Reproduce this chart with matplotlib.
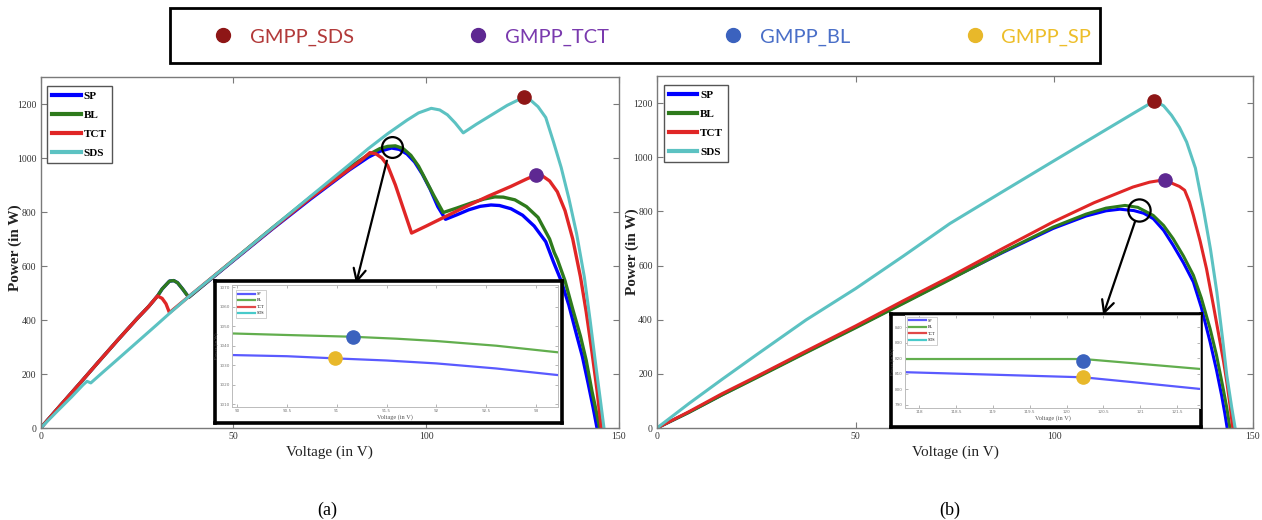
import matplotlib
matplotlib.use("Agg")
import matplotlib.pyplot as plt
from matplotlib.lines import Line2D
from matplotlib.patches import Rectangle

# ---------------- data: (a) partial shading ----------------
a_sds_v = [0, 4, 8, 11, 12, 13, 16, 20, 25, 30, 34, 38.6, 50, 60, 70, 80, 85, 90, 95, 98, 101.3,
           103.5, 105.5, 107.5, 109.6, 113, 117, 121, 125.3, 127, 129, 131, 133, 135, 137, 139,
           141, 142.5, 144, 145.2, 146.1]
a_sds_p = [0, 58, 115, 160, 173, 167, 205, 255, 318, 381, 432, 489, 622, 740, 858, 975, 1035, 1090,
           1140, 1167, 1184, 1178, 1160, 1130, 1093, 1125, 1160, 1195, 1225, 1215, 1190, 1150, 1060,
           965, 850, 720, 560, 400, 230, 100, 0]

a_tct_v = [0, 5, 10, 15, 20, 25, 28, 30.3, 31.5, 32.5, 33.4, 38.6, 50, 60, 70, 75, 80, 83, 85.4,
           87, 88.5, 90, 92, 94, 96.2, 100, 104.4, 110, 116, 122, 126, 128.6, 130, 132, 134, 136,
           138, 140, 141.5, 143, 144.3, 145.4]
a_tct_p = [0, 82, 163, 245, 326, 405, 450, 489, 480, 460, 427, 489, 622, 738, 852, 905, 958, 990,
           1020, 1015, 1000, 972, 900, 815, 722, 748, 779, 818, 858, 895, 922, 938, 935, 915, 875,
           805, 700, 560, 430, 280, 140, 0]

a_bl_v = [0, 5, 10, 15, 20, 25, 28, 30.3, 31.5, 33.4, 34.5, 35.5, 36.8, 38.4, 50, 60, 70, 80, 85,
          88, 90, 92, 94, 96, 98, 100, 102, 104.4, 108, 112, 115, 117.8, 120, 123, 126, 129, 132,
          133.2, 134, 136, 138, 140, 141.5, 143, 144.2, 145]
a_bl_p = [0, 82, 163, 245, 326, 405, 450, 489, 515, 544, 546, 538, 515, 484, 622, 740, 855, 965,
          1012, 1035, 1043, 1045, 1035, 1010, 970, 915, 860, 798, 815, 835, 848, 856, 855, 845,
          820, 780, 700, 650, 625, 545, 440, 340, 250, 135, 55, 0]

a_sp_v = [0, 5, 10, 15, 20, 25, 28, 30.3, 31.5, 33.4, 34.5, 35.5, 36.8, 38.4, 50, 60, 70, 80, 85,
          88, 91, 93, 95, 97, 99, 101, 103, 105, 108, 111, 114, 116.8, 119, 122, 125, 128, 131,
          133, 135, 137, 139, 140.5, 142, 143.3, 144.3]
a_sp_p = [0, 82, 163, 245, 326, 405, 450, 489, 515, 544, 546, 538, 515, 484, 620, 736, 848, 955,
          1003, 1025, 1037, 1032, 1015, 985, 940, 885, 820, 773, 790, 808, 821, 826, 824, 812, 788,
          748, 690, 615, 545, 455, 345, 265, 165, 75, 0]

a_gmpp_sds = (125.3, 1225)
a_gmpp_tct = (128.6, 938)
a_zoom_center = (91.0, 1039)
a_arrow_from = (89.8, 990)
a_arrow_to = (81.8, 535)

# inset (a)
ia_bl_v = [89.95, 90.5, 91.16, 91.6, 92.0, 92.6, 93.22]
ia_bl_p = [1046.3, 1045.5, 1044.6, 1043.6, 1042.4, 1040.0, 1036.6]
ia_sp_v = [89.95, 90.5, 90.98, 91.5, 92.0, 92.6, 93.22]
ia_sp_p = [1035.2, 1034.6, 1033.5, 1032.4, 1030.9, 1028.3, 1024.9]
ia_gmpp_bl = (91.16, 1044.6)
ia_gmpp_sp = (90.98, 1033.5)
ia_xticks = [90, 90.5, 91, 91.5, 92, 92.5, 93]
ia_yticks = [1010, 1020, 1030, 1040, 1050, 1060, 1070]

# ---------------- data: (b) uniform ----------------
b_sds_v = [0, 8, 16.4, 25, 37.5, 50, 62, 73.7, 87, 99.7, 112, 120, 125.2, 127.5, 129.5, 131.5,
           133.3, 135.5, 137.5, 139.3, 140.9, 142.3, 143.4, 144.6, 145.5]
b_sds_p = [0, 90, 180, 270, 399, 515, 635, 755, 873, 985, 1093, 1163, 1208, 1190, 1155, 1110,
           1056, 960, 810, 660, 502, 335, 195, 80, 0]

b_tct_v = [0, 8, 16.4, 25, 37.5, 50, 62, 73.7, 87, 99.7, 110, 119.8, 124, 127.8, 129.9, 131.5,
           132.8, 134, 135, 136.7, 138.3, 140, 141.7, 142.6, 143.4, 144.2, 144.9]
b_tct_p = [0, 60, 127, 190, 284, 377, 470, 558, 663, 761, 832, 890, 908, 917, 902, 892, 878, 835,
           785, 690, 588, 455, 318, 245, 170, 85, 0]

b_bl_v = [0, 8, 16.4, 25, 37.5, 50, 62, 73.7, 87, 99.7, 108, 113, 117.8, 121, 124.9, 127.5,
          129.9, 132.5, 135, 137, 139.2, 140.8, 142.5, 143.4, 144.2]
b_bl_p = [0, 57, 122, 185, 278, 370, 460, 548, 650, 742, 790, 812, 822, 815, 785, 748, 699, 635,
          564, 480, 367, 270, 145, 75, 0]

b_sp_v = [0, 8, 16.4, 25, 37.5, 50, 62, 73.7, 87, 99.7, 108, 113, 116.5, 120, 122.5, 124.9,
          127.5, 129.9, 132.5, 135, 137, 139.2, 140.8, 142.1, 142.9, 143.5]
b_sp_p = [0, 58, 123, 187, 280, 372, 462, 550, 648, 737, 783, 802, 808, 803, 793, 773, 730, 675,
          610, 539, 445, 318, 215, 121, 55, 0]

b_gmpp_sds = (125.2, 1208)
b_gmpp_tct = (127.8, 917)
b_zoom_center = (121.4, 805)
b_arrow_from = (120.3, 762)
b_arrow_to = (112.3, 417)

# inset (b)
ib_bl_v = [117.81, 119.0, 120.23, 121.0, 121.81]
ib_bl_p = [819.5, 819.5, 819.5, 816.4, 813.1]
ib_sp_v = [117.81, 119.0, 120.23, 121.0, 121.81]
ib_sp_p = [811.0, 809.4, 807.7, 804.1, 800.2]
ib_gmpp_bl = (120.23, 818.5)
ib_gmpp_sp = (120.23, 807.7)
ib_xticks = [118, 118.5, 119, 119.5, 120, 120.5, 121, 121.5]
ib_yticks = [790, 800, 810, 820, 830, 840]

series_names = ["SP", "BL", "TCT", "SDS"]
gmpp_labels = ["GMPP_SDS", "GMPP_TCT", "GMPP_BL", "GMPP_SP"]
x_ticks = [0, 50, 100, 150]
y_ticks = [0, 200, 400, 600, 800, 1000, 1200]

# ---------------- styles ----------------
C_SP, C_BL, C_TCT, C_SDS = "#0000FF", "#2E7A1C", "#E02626", "#5CC2C2"
CI_SP, CI_BL, CI_TCT, CI_SDS = "#5A5AFF", "#62AE4E", "#E04848", "#48CACA"
M_SDS, M_TCT, M_BL, M_SP = "#8E1616", "#5E2892", "#3B62BE", "#E8B82A"
T_SDS, T_TCT, T_BL, T_SP = "#B23A3A", "#7A3AAE", "#4A6FC8", "#EDBE2A"
SERIF = "Liberation Serif"
W, H = 1262, 520

fig = plt.figure(figsize=(W / 100, H / 100), dpi=100)


def fr(x0, y0, x1, y1):
    """pixel box (left, top, right, bottom) -> figure fraction rect"""
    return [x0 / W, 1 - y1 / H, (x1 - x0) / W, (y1 - y0) / H]


def style_main(ax):
    ax.set_xlim(0, 150)
    ax.set_ylim(0, 1300)
    ax.set_xticks(x_ticks)
    ax.set_yticks(y_ticks)
    for s in ax.spines.values():
        s.set_color("#7A7A7A")
        s.set_linewidth(1.0)
    ax.tick_params(direction="in", top=True, right=True, length=4, width=0.8,
                   color="#7A7A7A", labelsize=7, labelcolor="#333333", pad=3)
    for t in ax.get_xticklabels() + ax.get_yticklabels():
        t.set_family(SERIF)
    ax.set_xlabel("Voltage (in V)", family=SERIF, fontsize=11, color="#222222")
    ax.set_ylabel("Power (in W)", family=SERIF, fontsize=11, fontweight="bold", color="#222222")
    ax.xaxis.label.set_va("center")
    ax.yaxis.label.set_va("center")


def main_legend(ax):
    leg = ax.legend(loc="upper left", bbox_to_anchor=(0.011, 0.975), prop={"family": SERIF, "weight": "bold", "size": 8},
                    handlelength=2.6, handletextpad=0.25, labelspacing=0.85, borderpad=0.45,
                    fancybox=False, framealpha=1, edgecolor="#555555", borderaxespad=0)
    leg.get_frame().set_linewidth(1.0)
    for line in leg.get_lines():
        line.set_linewidth(3.0)


def inset(box, inner, xt, yt, bl, sp, gbl, gsp, xlim, ylim, leg_anchor):
    frame = fig.add_axes(fr(*box))
    frame.set_xticks([])
    frame.set_yticks([])
    frame.set_facecolor("white")
    for s in frame.spines.values():
        s.set_linewidth(2.6)
        s.set_color("black")
    frame.set_zorder(5)
    ia = fig.add_axes(fr(*inner))
    ia.set_zorder(6)
    ia.plot(sp[0], sp[1], color=CI_SP, lw=1.6, label=series_names[0])
    ia.plot(bl[0], bl[1], color=CI_BL, lw=1.6, label=series_names[1])
    ia.plot([], [], color=CI_TCT, lw=1.6, label=series_names[2])
    ia.plot([], [], color=CI_SDS, lw=1.6, label=series_names[3])
    ia.plot(*gbl, "o", color=M_BL, ms=9.5, zorder=5)
    ia.plot(*gsp, "o", color=M_SP, ms=9.5, zorder=5)
    ia.set_xlim(*xlim)
    ia.set_ylim(*ylim)
    ia.set_xticks(xt)
    ia.set_yticks(yt)
    ia.set_xticklabels([f"{v:g}" for v in xt])
    ia.set_yticklabels([f"{v:g}" for v in yt])
    for s in ia.spines.values():
        s.set_color("#BBBBBB")
        s.set_linewidth(0.7)
    ia.tick_params(direction="in", top=True, right=True, length=2, width=0.5, color="#999999",
                   labelsize=3, labelcolor="#777777", pad=1.5)
    ia.set_xlabel("Voltage (in V)", family=SERIF, fontsize=4.5, color="#555555", labelpad=0.5)
    ia.set_ylabel("Power (in W)", family=SERIF, fontsize=3.5, color="#555555", labelpad=1)
    leg = ia.legend(loc="upper left", bbox_to_anchor=leg_anchor, prop={"family": SERIF, "size": 3},
                    handlelength=4, handletextpad=0.5, labelspacing=0.6, borderpad=0.5,
                    fancybox=False, framealpha=1, edgecolor="#BBBBBB", borderaxespad=0)
    leg.get_frame().set_linewidth(0.5)
    for line in leg.get_lines():
        line.set_linewidth(1.6)
    return ia


# ---------------- (a) ----------------
axa = fig.add_axes(fr(40.7, 77, 619, 428))
axa.plot(a_sp_v, a_sp_p, color=C_SP, lw=2.4, label=series_names[0])
axa.plot(a_bl_v, a_bl_p, color=C_BL, lw=2.4, label=series_names[1])
axa.plot(a_tct_v, a_tct_p, color=C_TCT, lw=2.4, label=series_names[2])
axa.plot(a_sds_v, a_sds_p, color=C_SDS, lw=2.2, label=series_names[3])
axa.plot(*a_gmpp_sds, "o", color=M_SDS, ms=9.5, zorder=5)
axa.plot(*a_gmpp_tct, "o", color=M_TCT, ms=9.5, zorder=5)
axa.plot(*a_zoom_center, "o", mfc="none", mec="black", ms=15, mew=1.6, zorder=6)
axa.annotate("", xy=a_arrow_to, xytext=a_arrow_from,
             arrowprops=dict(arrowstyle="->", lw=1.6, color="black", mutation_scale=22,
                             shrinkA=0, shrinkB=0), zorder=6)
style_main(axa)
main_legend(axa)
axa.xaxis.set_label_coords(0.5, (428 - 452) / 351)
axa.yaxis.set_label_coords((15 - 40.7) / 578.3, 0.515)

inset((215, 281, 562, 423), (232, 285, 558, 407), ia_xticks, ia_yticks,
      (ia_bl_v, ia_bl_p), (ia_sp_v, ia_sp_p), ia_gmpp_bl, ia_gmpp_sp,
      (89.95, 93.22), (1008.5, 1071.2), (0.012, 0.96))

# ---------------- (b) ----------------
axb = fig.add_axes(fr(657, 76, 1253, 428))
axb.plot(b_sp_v, b_sp_p, color=C_SP, lw=2.2, label=series_names[0])
axb.plot(b_bl_v, b_bl_p, color=C_BL, lw=2.2, label=series_names[1])
axb.plot(b_tct_v, b_tct_p, color=C_TCT, lw=2.2, label=series_names[2])
axb.plot(b_sds_v, b_sds_p, color=C_SDS, lw=2.2, label=series_names[3])
axb.plot(*b_gmpp_sds, "o", color=M_SDS, ms=9.5, zorder=5)
axb.plot(*b_gmpp_tct, "o", color=M_TCT, ms=9.5, zorder=5)
axb.plot(*b_zoom_center, "o", mfc="none", mec="black", ms=16, mew=1.6, zorder=6)
axb.annotate("", xy=b_arrow_to, xytext=b_arrow_from,
             arrowprops=dict(arrowstyle="->", lw=1.6, color="black", mutation_scale=22,
                             shrinkA=0, shrinkB=0), zorder=6)
style_main(axb)
main_legend(axb)
axb.xaxis.set_label_coords(0.5, (428 - 452) / 352)
axb.yaxis.set_label_coords((632 - 657) / 596, 0.5)

inset((891, 314, 1201, 427), (905, 315, 1200, 408), ib_xticks, ib_yticks,
      (ib_bl_v, ib_bl_p), (ib_sp_v, ib_sp_p), ib_gmpp_bl, ib_gmpp_sp,
      (117.81, 121.81), (787.9, 847.9), (0.006, 0.98))

# ---------------- top GMPP legend ----------------
fig.add_artist(Rectangle((170 / W, 1 - 63 / H), 930 / W, 55 / H, transform=fig.transFigure,
                         fill=False, lw=2.0, ec="black"))
handles = [Line2D([], [], ls="none", marker="o", ms=10, color=c) for c in (M_SDS, M_TCT, M_BL, M_SP)]
top = fig.legend(handles, gmpp_labels, loc="center", bbox_to_anchor=(652 / W, 1 - 37 / H), ncol=4,
                 frameon=False, prop={"family": "Lato", "size": 14.5}, handlelength=1.0,
                 handletextpad=0.8, columnspacing=5.7, borderpad=0)
for t, c in zip(top.get_texts(), (T_SDS, T_TCT, T_BL, T_SP)):
    t.set_color(c)

# ---------------- sub captions ----------------
fig.text(327 / W, 1 - 510 / H, "(a)", ha="center", va="center", family=SERIF, fontsize=13)
fig.text(950 / W, 1 - 510 / H, "(b)", ha="center", va="center", family=SERIF, fontsize=13)

fig.savefig("out.png", dpi=100, facecolor="white")
